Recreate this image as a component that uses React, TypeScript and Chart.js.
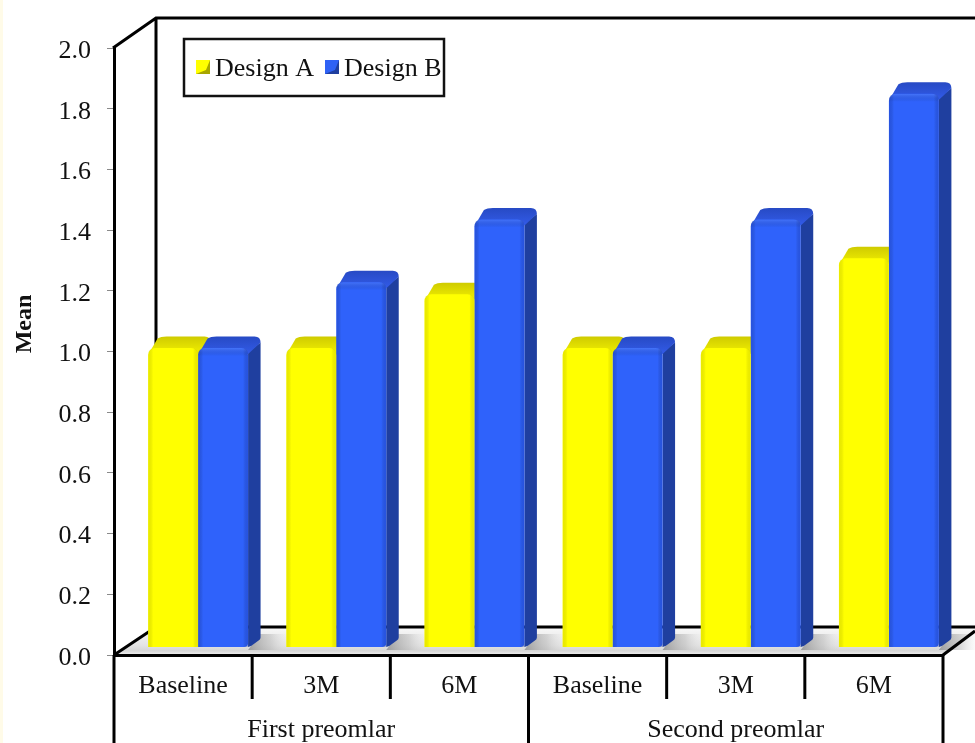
import React, { useEffect, useRef } from "react";
import { Chart, registerables } from "chart.js";

Chart.register(...registerables);

const categories = ["Baseline", "3M", "6M", "Baseline", "3M", "6M"];
const groups = ["First preomlar", "Second preomlar"];
const designA = [1.0, 1.0, 1.18, 1.0, 1.0, 1.3];
const designB = [1.0, 1.22, 1.43, 1.0, 1.43, 1.85];
const valueTicksMax = 2.0;
const barScaleMax = 2.03; // bars stand further back, so their unit is slightly shorter

const SERIF = '"Liberation Serif", serif';
const INK = "#111111";
const DEPTH_X = 12.5;
const DEPTH_Y = 11.5;
const SHIFT_X = 15;
const SHIFT_Y = -8;
const FONT_SIZE = 26;

const faces = [
  { back: "#cfcb00", front: "#eeec00", side: "#c4c100", edge: "rgba(170,170,0,0.22)", glow: "rgba(255,255,170,0)" },
  { back: "#274ac4", front: "#3159e4", side: "#1f3f9f", edge: "rgba(20,50,170,0.3)", glow: "rgba(120,160,255,0.3)" },
];

function frontPath(ctx: CanvasRenderingContext2D, x: number, y: number, w: number, base: number, r: number) {
  ctx.beginPath();
  ctx.moveTo(x, base);
  ctx.lineTo(x, y + r);
  ctx.quadraticCurveTo(x, y, x + r, y);
  ctx.lineTo(x + w - r, y);
  ctx.quadraticCurveTo(x + w, y, x + w, y + r);
  ctx.lineTo(x + w, base);
  ctx.closePath();
}

const chart3d = {
  id: "chart3d",
  beforeDraw(chart: any) {
    const { ctx, chartArea: a } = chart;
    const backX = a.left + 42;
    const backTop = 18;
    const backBottom = 627;
    const W = chart.width;

    ctx.save();
    ctx.fillStyle = "#ffffff";
    ctx.fillRect(0, 0, W, chart.height);
    ctx.fillStyle = "#fffbe8";
    ctx.fillRect(0, 0, 3, chart.height);

    // floor
    const g = ctx.createLinearGradient(0, backBottom, 0, a.bottom);
    g.addColorStop(0, "#f8f8f8");
    g.addColorStop(0.65, "#e4e4e4");
    g.addColorStop(0.85, "#d6d6d6");
    g.addColorStop(1, "#f0f0f0");
    ctx.fillStyle = g;
    ctx.beginPath();
    ctx.moveTo(a.left, a.bottom);
    ctx.lineTo(backX, backBottom);
    ctx.lineTo(W, backBottom);
    ctx.lineTo(W, backBottom + 4);
    ctx.lineTo(a.right, a.bottom);
    ctx.closePath();
    ctx.fill();

    // shadow cast to the right of each bar pair
    const meta = chart.getDatasetMeta(1);
    meta.data.forEach((el: any) => {
      const right = el.x + el.width / 2 + SHIFT_X;
      const s = ctx.createLinearGradient(right, 0, right + 38, 0);
      s.addColorStop(0, "rgba(130,130,130,0.7)");
      s.addColorStop(0.6, "rgba(170,170,170,0.4)");
      s.addColorStop(1, "rgba(215,215,215,0.05)");
      ctx.fillStyle = s;
      ctx.beginPath();
      ctx.moveTo(right, a.bottom - 5);
      ctx.lineTo(right + 12, backBottom + 7);
      ctx.lineTo(right + 38, backBottom + 7);
      ctx.lineTo(right + 38, a.bottom - 5);
      ctx.closePath();
      ctx.fill();
    });

    // back wall and side wall outline
    ctx.strokeStyle = "#000000";
    ctx.lineWidth = 3;
    ctx.lineJoin = "miter";
    ctx.beginPath();
    ctx.moveTo(a.left - 1, a.top);
    ctx.lineTo(backX, backTop);
    ctx.lineTo(W, backTop);
    ctx.moveTo(backX, backTop);
    ctx.lineTo(backX, backBottom);
    ctx.lineTo(W, backBottom);
    ctx.moveTo(a.left, a.bottom);
    ctx.lineTo(backX, backBottom);
    ctx.moveTo(a.right, a.bottom);
    ctx.lineTo(W, a.bottom - 24);
    ctx.stroke();
    ctx.restore();
  },
  beforeDatasetsDraw(chart: any) {
    const { ctx } = chart;
    ctx.save();
    ctx.translate(SHIFT_X, SHIFT_Y);
    [0, 1].forEach((d) => {
      chart.getDatasetMeta(d).data.forEach((el: any) => {
        const left = el.x - el.width / 2;
        const right = el.x + el.width / 2;
        const backY = el.y - DEPTH_Y;
        // right-hand face
        ctx.fillStyle = faces[d].side;
        ctx.beginPath();
        ctx.moveTo(right, el.base);
        ctx.lineTo(right, el.y + 4);
        ctx.lineTo(right + DEPTH_X, backY + 6);
        ctx.lineTo(right + DEPTH_X, el.base - DEPTH_Y + 2);
        ctx.quadraticCurveTo(right + DEPTH_X, el.base - DEPTH_Y + 4, right + DEPTH_X - 2, el.base - DEPTH_Y + 5);
        ctx.lineTo(right + 3, el.base - 1);
        ctx.closePath();
        ctx.fill();
        // upper face, shaded from the back edge towards the front
        const top = ctx.createLinearGradient(0, backY, 0, el.y + 4);
        top.addColorStop(0, faces[d].back);
        top.addColorStop(1, faces[d].front);
        ctx.fillStyle = top;
        ctx.beginPath();
        ctx.moveTo(left + 1, el.y + 5);
        ctx.lineTo(left + DEPTH_X - 3, backY + 2);
        ctx.quadraticCurveTo(left + DEPTH_X, backY, left + DEPTH_X + 6, backY);
        ctx.lineTo(right + DEPTH_X - 6, backY);
        ctx.quadraticCurveTo(right + DEPTH_X, backY, right + DEPTH_X, backY + 6);
        ctx.lineTo(right, el.y + 6);
        ctx.closePath();
        ctx.fill();
      });
    });
    // the bars themselves are drawn by the library inside this translation
  },
  afterDatasetsDraw(chart: any) {
    const { ctx } = chart;
    [0, 1].forEach((d) => {
      chart.getDatasetMeta(d).data.forEach((el: any) => {
        const left = el.x - el.width / 2;
        const w = el.width;
        ctx.save();
        frontPath(ctx, left, el.y, w, el.base, 7);
        ctx.clip();
        const gx = ctx.createLinearGradient(left, 0, left + w, 0);
        gx.addColorStop(0, faces[d].edge);
        gx.addColorStop(0.1, "rgba(0,0,0,0)");
        gx.addColorStop(0.9, "rgba(0,0,0,0)");
        gx.addColorStop(1, faces[d].edge);
        ctx.fillStyle = gx;
        ctx.fillRect(left, el.y, w, el.base - el.y);
        const gy = ctx.createLinearGradient(0, el.y, 0, el.y + 8);
        gy.addColorStop(0, faces[d].glow);
        gy.addColorStop(1, "rgba(0,0,0,0)");
        ctx.fillStyle = gy;
        ctx.fillRect(left, el.y, w, 8);
        ctx.restore();
      });
    });
    ctx.restore();
  },
  afterDraw(chart: any) {
    const { ctx, chartArea: a, scales } = chart;
    const step = scales.x.getPixelForValue(1) - scales.x.getPixelForValue(0);
    ctx.save();
    ctx.strokeStyle = "#000000";
    ctx.lineWidth = 3;

    // category separators below the axis, full height at group boundaries
    categories.forEach((_, i) => {
      const x = scales.x.getPixelForValue(i) + step / 2;
      if (i % 3 === 2) return;
      ctx.beginPath();
      ctx.moveTo(x, a.bottom);
      ctx.lineTo(x, 699);
      ctx.stroke();
    });
    [0, 3, 6].forEach((i) => {
      const x = scales.x.getPixelForValue(i) - step / 2;
      ctx.beginPath();
      ctx.moveTo(x, a.bottom);
      ctx.lineTo(x, chart.height);
      ctx.stroke();
    });

    // group names
    ctx.fillStyle = INK;
    ctx.font = `${FONT_SIZE}px ${SERIF}`;
    ctx.textAlign = "center";
    ctx.textBaseline = "middle";
    groups.forEach((name, g) => {
      ctx.fillText(name, scales.x.getPixelForValue(g * 3 + 1), 730);
    });

    // value-axis title
    ctx.save();
    ctx.translate(25, 324);
    ctx.rotate(-Math.PI / 2);
    ctx.font = `bold 24px ${SERIF}`;
    ctx.fillText("Mean", 0, 0);
    ctx.restore();

    // legend
    const bx = 184, by = 39, bw = 260, bh = 57;
    ctx.fillStyle = "#ffffff";
    ctx.fillRect(bx, by, bw, bh);
    ctx.lineWidth = 2.5;
    ctx.strokeStyle = "#111111";
    ctx.strokeRect(bx, by, bw, bh);
    const slots = [196, 325];
    const swatch = [
      ["#ffff00", "#a8a600"],
      ["#2f62f5", "#1f3f9f"],
    ];
    chart.data.datasets.forEach((ds: any, i: number) => {
      const sx = slots[i];
      ctx.fillStyle = swatch[i][1];
      ctx.fillRect(sx, 60, 14, 14);
      ctx.fillStyle = swatch[i][0];
      ctx.beginPath();
      ctx.moveTo(sx, 60);
      ctx.lineTo(sx + 14, 60);
      ctx.lineTo(sx + 10, 70);
      ctx.lineTo(sx, 74);
      ctx.closePath();
      ctx.fill();
      ctx.fillStyle = INK;
      ctx.font = `${FONT_SIZE}px ${SERIF}`;
      ctx.textAlign = "left";
      ctx.textBaseline = "middle";
      ctx.fillText(ds.label, sx + 19, 69);
    });
    ctx.restore();
  },
};

// Serif digits sit high on their middle baseline; nudge the value labels down onto their ticks.
function lowerLabels(scale: any, dy: number) {
  if (scale.__lowered) return;
  scale.__lowered = true;
  const compute = scale._computeLabelItems.bind(scale);
  scale._computeLabelItems = (area: any) =>
    compute(area).map((item: any) => ({
      ...item,
      options: { ...item.options, translation: [item.options.translation[0], item.options.translation[1] + dy] },
    }));
}

export default function App() {
  const ref = useRef<HTMLCanvasElement>(null);

  useEffect(() => {
    const chart = new Chart(ref.current as HTMLCanvasElement, {
      type: "bar",
      data: {
        labels: categories,
        datasets: [
          {
            label: "Design A",
            data: designA,
            yAxisID: "bars",
            backgroundColor: "#ffff00",
            clip: false,
            borderRadius: { topLeft: 7, topRight: 7, bottomLeft: 0, bottomRight: 0 },
            borderSkipped: false,
            categoryPercentage: 100 / 138.2,
            barPercentage: 1,
          },
          {
            label: "Design B",
            data: designB,
            yAxisID: "bars",
            backgroundColor: "#2f62fb",
            clip: false,
            borderRadius: { topLeft: 7, topRight: 7, bottomLeft: 0, bottomRight: 4 },
            borderSkipped: false,
            categoryPercentage: 100 / 138.2,
            barPercentage: 1,
          },
        ],
      } as any,
      options: {
        animation: false,
        responsive: false,
        layout: { padding: { top: 48, right: 32, left: 0, bottom: 0 } },
        plugins: { legend: { display: false }, tooltip: { enabled: false } },
        scales: {
          x: {
            afterFit: (s: any) => {
              s.height = 88;
            },
            grid: { display: false, drawTicks: false },
            border: { display: true, color: "#000000", width: 3 },
            ticks: {
              color: INK,
              font: { family: SERIF, size: FONT_SIZE },
              padding: 16,
              maxRotation: 0,
              autoSkip: false,
            },
          },
          y: {
            min: 0,
            max: valueTicksMax,
            afterFit: (s: any) => {
              s.width = 114;
              lowerLabels(s, 3);
            },
            grid: { drawOnChartArea: false, drawTicks: true, tickLength: 7, color: "#8a8a8a" },
            border: { display: true, color: "#000000", width: 3 },
            ticks: {
              stepSize: 0.2,
              color: INK,
              font: { family: SERIF, size: FONT_SIZE },
              padding: 16,
              callback: (v: any) => Number(v).toFixed(1),
            },
          },
          bars: { display: false, min: 0, max: barScaleMax },
        },
      } as any,
      plugins: [chart3d],
    });
    return () => chart.destroy();
  }, []);

  return (
    <div style={{ position: "absolute", left: 0, top: 0, width: 975, height: 743, overflow: "hidden" }}>
      <canvas ref={ref} width={975} height={743} style={{ display: "block" }} />
    </div>
  );
}
